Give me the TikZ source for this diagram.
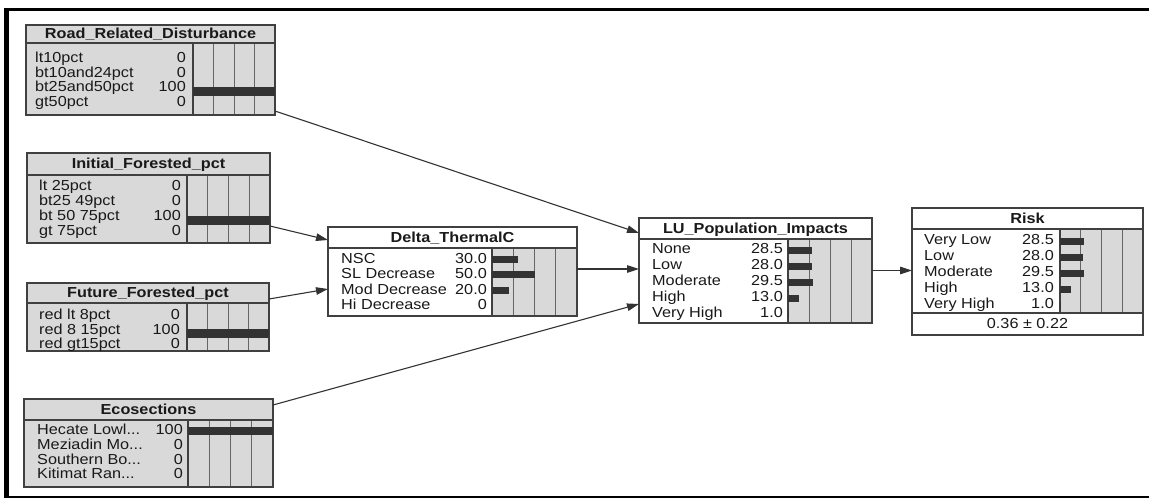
\documentclass[tikz,border=0pt]{standalone}
\usepackage{fontspec}
\setmainfont[FakeStretch=1.12]{Liberation Sans}
\usetikzlibrary{arrows.meta}
\tikzset{
 boxframe/.style={draw=black!75, line width=1.1pt, outer sep=0pt, inner sep=0pt},
 ingray/.style={fill=gray!30},
 ttl/.style={font=\fontsize{14.5}{16}\selectfont\bfseries, text=black!90, inner sep=0pt, text height=10pt, text depth=3pt},
 lbl/.style={font=\fontsize{14.5}{16}\selectfont, text=black!90, inner sep=0pt, anchor=west, text height=10pt, text depth=3pt},
 val/.style={lbl, anchor=east},
 gridln/.style={draw=black!60, line width=0.7pt},
 barf/.style={fill=black!80},
 arr/.style={draw=black!80, line width=1.1pt, -{Triangle[length=12pt,width=7.5pt]}},
}
\newcommand{\dts}{...}
\newcommand{\barea}[4]{%
 \fill[gray!30] (#1,#3) rectangle (#2,#4);
 \foreach \k in {1,2,3} {\draw[gridln] ({#1+\k*(#2-#1)/4},#3) -- ({#1+\k*(#2-#1)/4},#4);}
 \draw[boxframe] (#1,#3) -- (#1,#4);
}
\newcommand{\pbar}[5]{%
 \fill[barf] (#1,{#3-#5}) rectangle ({#1+(#2-#1)*#4/100},{#3+#5});
}
\begin{document}
\begin{tikzpicture}[x=1pt,y=-1pt]
\useasboundingbox (0,0) rectangle (1149,498);
\fill[white] (0,0) rectangle (1149,498);
% frame
\fill[black] (4,8) rectangle (9,498);
\fill[black] (4,8) rectangle (1149,11);
\fill[black] (4,496) rectangle (1149,498);

% ---------- Road_Related_Disturbance
\node[boxframe, ingray, minimum width=249pt, minimum height=90pt] (road) at (150.5,70) {};
\barea{193}{275}{43}{115}
\draw[boxframe] (road.south west) rectangle (road.north east);
\draw[boxframe] (26,43) -- (275,43);
\node[ttl] (road-t) at (150.5,35) {Road\_Related\_Disturbance};
\foreach \n/\v/\y [count=\i] in {lt10pct/0/58, bt10and24pct/0/72.5, bt25and50pct/100/87, gt50pct/0/101.5} {
 \node[lbl] (road-l\i) at (35,\y+1) {\n};
 \node[val] (road-v\i) at (186,\y+1) {\v};
}
\pbar{193}{275}{91}{100}{4.5}

% ---------- Initial_Forested_pct
\node[boxframe, ingray, minimum width=243pt, minimum height=90pt] (init) at (148.5,198) {};
\barea{187}{270}{175}{243}
\draw[boxframe] (init.south west) rectangle (init.north east);
\draw[boxframe] (27,175) -- (270,175);
\node[ttl] (init-t) at (148.5,165) {Initial\_Forested\_pct};
\foreach \n/\v/\y [count=\i] in {lt 25pct/0/186, bt25 49pct/0/201, bt 50 75pct/100/216, gt 75pct/0/231} {
 \node[lbl] (init-l\i) at (39,\y+1) {\n};
 \node[val] (init-v\i) at (181,\y+1) {\v};
}
\pbar{187}{270}{220}{100}{4.5}

% ---------- Future_Forested_pct
\node[boxframe, ingray, minimum width=242pt, minimum height=68pt] (future) at (148,317) {};
\barea{187}{269}{303}{351}
\draw[boxframe] (future.south west) rectangle (future.north east);
\draw[boxframe] (27,303) -- (269,303);
\node[ttl] (future-t) at (148,294) {Future\_Forested\_pct};
\foreach \n/\v/\y [count=\i] in {red lt 8pct/0/315, red 8 15pct/100/329.5, red gt15pct/0/344} {
 \node[lbl] (future-l\i) at (39,\y+1) {\n};
 \node[val] (future-v\i) at (180,\y+1) {\v};
}
\pbar{187}{269}{333}{100}{4.5}

% ---------- Ecosections
\node[boxframe, ingray, minimum width=249pt, minimum height=88pt] (eco) at (148.5,443) {};
\barea{188}{273}{420}{487}
\draw[boxframe] (eco.south west) rectangle (eco.north east);
\draw[boxframe] (24,420) -- (273,420);
\node[ttl] (eco-t) at (148.5,410.5) {Ecosections};
\foreach \n/\v/\y [count=\i] in {Hecate Lowl\dts/100/430, Meziadin Mo\dts/0/445, Southern Bo\dts/0/460, Kitimat Ran\dts/0/474} {
 \node[lbl] (eco-l\i) at (37,\y+1) {\n};
 \node[val] (eco-v\i) at (183,\y+1) {\v};
}
\pbar{188}{273}{430.5}{100}{4}

% ---------- Delta_ThermalC
\node[boxframe, fill=white, minimum width=249pt, minimum height=89pt] (delta) at (452.5,271.5) {};
\barea{492}{577}{248}{316}
\draw[boxframe] (delta.south west) rectangle (delta.north east);
\draw[boxframe] (328,248) -- (577,248);
\node[ttl] (delta-t) at (452.5,238.5) {Delta\_ThermalC};
\foreach \n/\v/\y/\p [count=\i] in {NSC/30.0/259/30, SL Decrease/50.0/274/50, Mod Decrease/20.0/290/20, Hi Decrease/0/305/0} {
 \node[lbl] (delta-l\i) at (341,\y+1) {\n};
 \node[val] (delta-v\i) at (487,\y+1) {\v};
 \pbar{492}{577}{\y+0.5}{\p}{3.5}
}

% ---------- LU_Population_Impacts
\node[boxframe, fill=white, minimum width=233pt, minimum height=105pt] (lu) at (755.5,270.5) {};
\barea{788}{872}{239}{323}
\draw[boxframe] (lu.south west) rectangle (lu.north east);
\draw[boxframe] (639,239) -- (872,239);
\node[ttl] (lu-t) at (755.5,229.5) {LU\_Population\_Impacts};
\foreach \n/\v/\y/\p [count=\i] in {None/28.5/249/28.5, Low/28.0/265/28.0, Moderate/29.5/281/29.5, High/13.0/297/13.0, Very High/1.0/313/1.0} {
 \node[lbl] (lu-l\i) at (652,\y+1) {\n};
 \node[val] (lu-v\i) at (783,\y+1) {\v};
 \pbar{788}{872}{\y+1}{\p}{3.5}
}

% ---------- Risk
\node[boxframe, fill=white, minimum width=231pt, minimum height=127pt] (risk) at (1027.5,271.5) {};
\barea{1060}{1143}{229}{313}
\draw[boxframe] (risk.south west) rectangle (risk.north east);
\draw[boxframe] (912,229) -- (1143,229);
\draw[boxframe] (912,313) -- (1143,313);
\node[ttl] (risk-t) at (1027.5,219.5) {Risk};
\foreach \n/\v/\y/\p [count=\i] in {Very Low/28.5/240/28.5, Low/28.0/256/28.0, Moderate/29.5/272/29.5, High/13.0/288/13.0, Very High/1.0/304/1.0} {
 \node[lbl] (risk-l\i) at (924,\y+1) {\n};
 \node[val] (risk-v\i) at (1054,\y+1) {\v};
 \pbar{1060}{1143}{\y+1}{\p}{3.5}
}
\node[lbl, anchor=center] (risk-f) at (1027.5,325) {0.36 ± 0.22};

% ---------- connectors
\draw[arr] ([yshift=-41pt]road.east) -- ([yshift=37.5pt]lu.west);
\draw[arr] ([yshift=-28pt]init.east) -- ([yshift=31.5pt]delta.west);
\draw[arr] ([yshift=18pt]future.east) -- ([yshift=-17.5pt]delta.west);
\draw[arr] ([yshift=38pt]eco.east) -- ([yshift=-33.5pt]lu.west);
\draw[arr] ([yshift=2.5pt]delta.east) -- ([yshift=1.5pt]lu.west);
\draw[arr] (lu.east) -- (lu.east -| risk.west);
\end{tikzpicture}
\end{document}
